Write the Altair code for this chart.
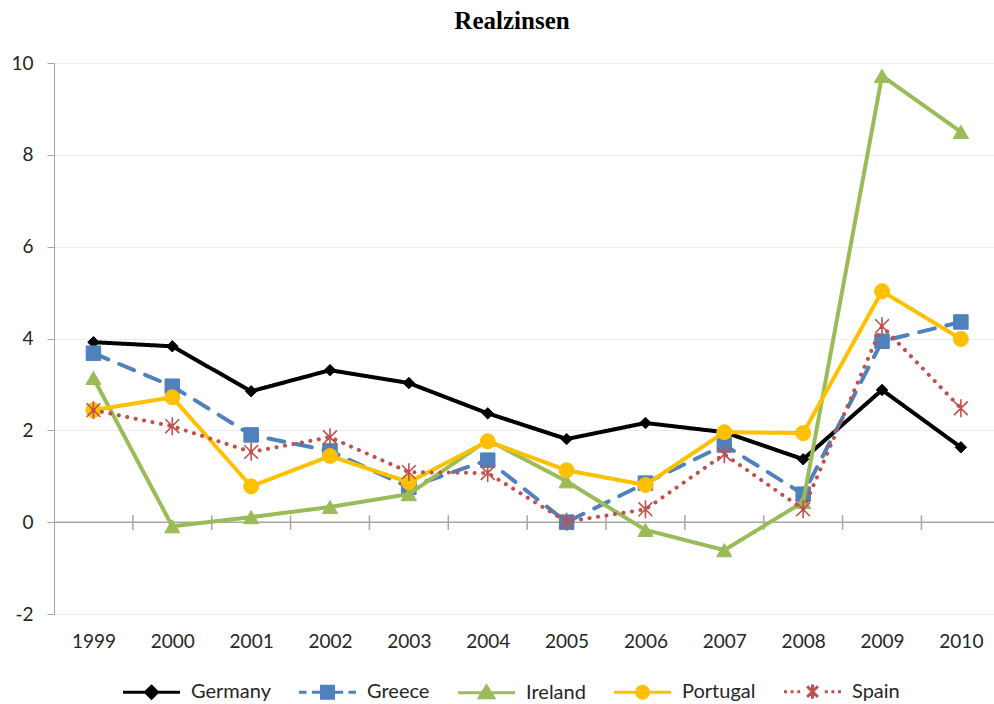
import altair as alt
import pandas as pd

# ---- data ----
years = [1999, 2000, 2001, 2002, 2003, 2004, 2005, 2006, 2007, 2008, 2009, 2010]
countries = ["Germany", "Greece", "Ireland", "Portugal", "Spain"]
germany = [3.92, 3.83, 2.85, 3.31, 3.03, 2.37, 1.81, 2.16, 1.96, 1.37, 2.88, 1.63]
greece = [3.68, 2.96, 1.90, 1.55, 0.76, 1.35, 0.00, 0.85, 1.68, 0.61, 3.94, 4.36]
ireland = [3.14, -0.09, 0.11, 0.33, 0.61, 1.79, 0.89, -0.17, -0.61, 0.44, 9.72, 8.50]
portugal = [2.44, 2.72, 0.78, 1.44, 0.87, 1.76, 1.13, 0.81, 1.96, 1.94, 5.03, 3.99]
spain = [2.44, 2.09, 1.53, 1.85, 1.09, 1.07, 0.01, 0.28, 1.48, 0.28, 4.27, 2.48]
y_ticks = [-2, 0, 2, 4, 6, 8, 10]

# ---- styles ----
colors = ["#000000", "#4F81BD", "#9BBB59", "#FFC000", "#C0504D"]
dashes = [[1, 0], [16, 12], [1, 0], [1, 0], [0.1, 8.5]]
shapes = ["diamond", "square", "triangle-up", "circle",
          "M-1,-1L1,1M1,-1L-1,1M0,-1.3L0,1.3"]
sizes = [130, 210, 230, 225, 190]
marker_sw = [1, 1, 1, 1, 1.6]
legend_paths = [
    "M-0.95,0H0.95M0,-0.2L0.2,0L0,0.2L-0.2,0Z",
    "M-0.95,0H-0.7M-0.52,0H0.52M0.7,0H0.95M-0.2,-0.2H0.2V0.2H-0.2Z",
    "M-0.95,0H0.95M0,-0.22L0.24,0.17L-0.24,0.17Z",
    "M-0.95,0H0.95M-0.2,0A0.2,0.2 0 1,0 0.2,0A0.2,0.2 0 1,0 -0.2,0Z",
    "M-0.95,0h0.1M-0.73,0h0.1M-0.51,0h0.1M0.41,0h0.1M0.63,0h0.1M0.85,0h0.1"
    "M-0.18,-0.18L0.18,0.18M0.18,-0.18L-0.18,0.18M0,-0.24V0.24",
]

series = [germany, greece, ireland, portugal, spain]
df = pd.DataFrame(
    [{"year": y, "country": c, "value": v}
     for c, vals in zip(countries, series) for y, v in zip(years, vals)]
)
bounds = pd.DataFrame({"b": [y + 0.5 for y in years[:-1]]})
zero = pd.DataFrame({"z": [0]})

FONT = "Lato"
xscale = alt.Scale(domain=[1998.5, 2010.42], nice=False, zero=False)
yscale = alt.Scale(domain=[-2, 10], nice=False, zero=False)
xaxis = alt.Axis(values=years, format="d", tickSize=0, domain=False, grid=False,
                 labelPadding=18, labelFont=FONT, labelFontSize=19, labelColor="#262626",
                 title=None)
yaxis = alt.Axis(values=y_ticks, grid=True, gridColor="#eeeeee", domainColor="#a6a6a6",
                 tickColor="#a6a6a6", tickSize=7, labelPadding=14, labelFont=FONT,
                 labelFontSize=19, labelColor="#262626", title=None,
                 labelExpr="'' + datum.value")

legend = alt.Legend(
    title=None, orient="none", legendX=66, legendY=597, direction="horizontal",
    symbolSize=3600, symbolStrokeWidth=3, labelFont=FONT, labelFontSize=20,
    labelColor="#262626", labelOffset=8, columnPadding=22, padding=0, symbolOpacity=1,
)

zero_rule = alt.Chart(zero).mark_rule(color="#a6a6a6", strokeWidth=1.5).encode(
    x=alt.datum(1998.5, scale=xscale, axis=xaxis),
    x2=alt.datum(2010.42),
    y=alt.Y("z:Q", scale=yscale, axis=yaxis),
)
tick_rules = alt.Chart(bounds).mark_rule(color="#a6a6a6", strokeWidth=1.5).encode(
    x=alt.X("b:Q", scale=xscale, axis=xaxis),
    y=alt.datum(-0.17, scale=yscale, axis=yaxis),
    y2=alt.datum(0.15),
)

layers = [zero_rule, tick_rules]
for i, c in enumerate(countries):
    sub = alt.Chart(df).transform_filter(alt.datum.country == c)
    layers.append(
        sub.mark_line(strokeWidth=4, strokeCap="round", strokeJoin="round",
                      color=colors[i], strokeDash=dashes[i]).encode(
            x=alt.X("year:Q", scale=xscale, axis=xaxis),
            y=alt.Y("value:Q", scale=yscale, axis=yaxis),
        )
    )
    layers.append(
        sub.mark_point(filled=True, opacity=1, shape=shapes[i], size=sizes[i],
                       fill=colors[i], stroke=colors[i], strokeWidth=marker_sw[i]).encode(
            x=alt.X("year:Q", scale=xscale, axis=xaxis),
            y=alt.Y("value:Q", scale=yscale, axis=yaxis),
        )
    )

# empty layer that only carries the legend (line + marker symbols)
legend_layer = alt.Chart(df).transform_filter("false").mark_point(filled=True, opacity=1).encode(
    x=alt.X("year:Q", scale=xscale, axis=xaxis),
    y=alt.Y("value:Q", scale=yscale, axis=yaxis),
    color=alt.Color("country:N", scale=alt.Scale(domain=countries, range=colors), legend=legend),
    stroke=alt.Stroke("country:N", scale=alt.Scale(domain=countries, range=colors), legend=legend),
    shape=alt.Shape("country:N", scale=alt.Scale(domain=countries, range=legend_paths),
                    legend=legend),
)
layers.append(legend_layer)

chart = alt.layer(*layers).properties(
    width=940,
    height=551,
    title=alt.Title("Realzinsen", font="Liberation Serif", fontSize=25, fontWeight="bold",
                    color="#000000", anchor="middle", offset=20, dx=-12),
    autosize=alt.AutoSizeParams(type="none"),
    padding={"left": 54, "top": 63, "right": 0, "bottom": 90},
    background="white",
).configure_view(stroke=None)

chart.save("out.html", embed_options={"renderer": "svg", "actions": False})
